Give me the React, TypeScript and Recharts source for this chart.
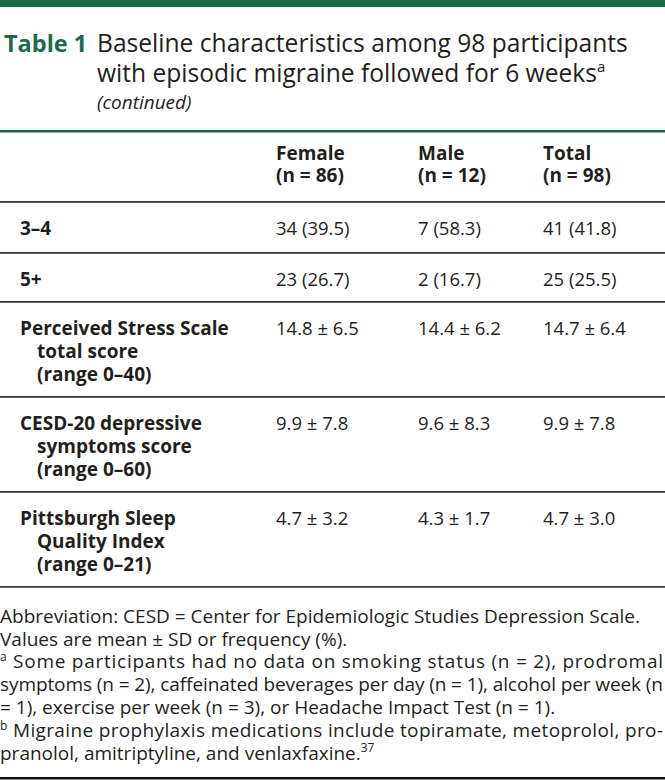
import React from "react";
import { Surface } from "recharts";

const columns = ["Female", "Male", "Total"];
const columnCounts = ["(n = 86)", "(n = 12)", "(n = 98)"];

const rowLabels = [
  ["3–4"],
  ["5+"],
  ["Perceived Stress Scale", "total score", "(range 0–40)"],
  ["CESD-20 depressive", "symptoms score", "(range 0–60)"],
  ["Pittsburgh Sleep", "Quality Index", "(range 0–21)"],
];
const femaleValues = ["34 (39.5)", "23 (26.7)", "14.8 ± 6.5", "9.9 ± 7.8", "4.7 ± 3.2"];
const maleValues = ["7 (58.3)", "2 (16.7)", "14.4 ± 6.2", "9.6 ± 8.3", "4.3 ± 1.7"];
const totalValues = ["41 (41.8)", "25 (25.5)", "14.7 ± 6.4", "9.9 ± 7.8", "4.7 ± 3.0"];

const W = 665;
const H = 781;
const GREEN = "#1b6b4b";
const INK = "#231f20";
const FONT = "'Open Sans', 'Noto Sans', sans-serif";

const colX = [276, 418, 543];
const rowTop = [202, 253, 302, 397, 492];
const rowBottom = [253, 302, 397, 492, 587];
const lineGap = 23;

export default function App() {
  return (
    <div style={{ width: W, height: H, background: "#fff" }}>
      <style>{`body{margin:0}`}</style>
      <Surface width={W} height={H}>
        <rect x={0} y={0} width={W} height={7} fill={GREEN} />

        <text x={4} y={52} fontFamily={FONT} fontSize={23.5} fontWeight={700} fill={GREEN}>
          Table 1
        </text>
        <text x={97} y={52} fontFamily={FONT} fontSize={24.6} fill={INK}>
          Baseline characteristics among 98 participants
        </text>
        <text x={97} y={82} fontFamily={FONT} fontSize={24.6} fill={INK}>
          with episodic migraine followed for 6 weeks
          <tspan fontSize={15} dy={-10}>a</tspan>
        </text>
        <text x={97} y={109} fontFamily={FONT} fontSize={19} fontStyle="italic" fill={INK}>
          (continued)
        </text>

        <rect x={0} y={130} width={W} height={2.5} fill={GREEN} />

        {columns.map((c, i) => (
          <text key={c} x={colX[i]} fontFamily={FONT} fontSize={19} fontWeight={700} fill={INK}>
            <tspan x={colX[i]} y={160}>{c}</tspan>
            <tspan x={colX[i]} y={182}>{columnCounts[i]}</tspan>
          </text>
        ))}

        {rowTop.map((t, i) => (
          <rect key={"r" + i} x={0} y={t - 1} width={W} height={1.8} fill="#3a3a3a" />
        ))}
        <rect x={0} y={rowBottom[rowBottom.length - 1] - 1} width={W} height={1.8} fill="#3a3a3a" />

        {rowLabels.map((lines, i) => (
          <g key={"row" + i}>
            {lines.map((l, j) => (
              <text
                key={j}
                x={j === 0 ? 20 : 37}
                y={rowTop[i] + 33 + j * lineGap}
                fontFamily={FONT}
                fontSize={19}
                fontWeight={700}
                fill={INK}
              >
                {l}
              </text>
            ))}
            {[femaleValues, maleValues, totalValues].map((vals, k) => (
              <text
                key={"v" + k}
                x={colX[k]}
                y={rowTop[i] + 33}
                fontFamily={FONT}
                fontSize={18.5}
                fill={INK}
              >
                {vals[i]}
              </text>
            ))}
          </g>
        ))}

        <g fontFamily={FONT} fontSize={19} fill={INK}>
          <text x={0} y={623}>Abbreviation: CESD = Center for Epidemiologic Studies Depression Scale.</text>
          <text x={0} y={646}>Values are mean ± SD or frequency (%).</text>
          <text x={0} y={668} textLength={663} lengthAdjust="spacing">
            <tspan fontSize={12} dy={-7}>a</tspan>
            <tspan dy={7}> Some participants had no data on smoking status (n = 2), prodromal</tspan>
          </text>
          <text x={0} y={691} textLength={663} lengthAdjust="spacing">
            symptoms (n = 2), caffeinated beverages per day (n = 1), alcohol per week (n
          </text>
          <text x={0} y={714}>= 1), exercise per week (n = 3), or Headache Impact Test (n = 1).</text>
          <text x={0} y={737} textLength={663} lengthAdjust="spacing">
            <tspan fontSize={12} dy={-7}>b</tspan>
            <tspan dy={7}> Migraine prophylaxis medications include topiramate, metoprolol, pro-</tspan>
          </text>
          <text x={0} y={760}>
            pranolol, amitriptyline, and venlaxfaxine.
            <tspan fontSize={12} dy={-8}>37</tspan>
          </text>
        </g>

        <rect x={0} y={777} width={W} height={2.5} fill="#111" />
      </Surface>
    </div>
  );
}
